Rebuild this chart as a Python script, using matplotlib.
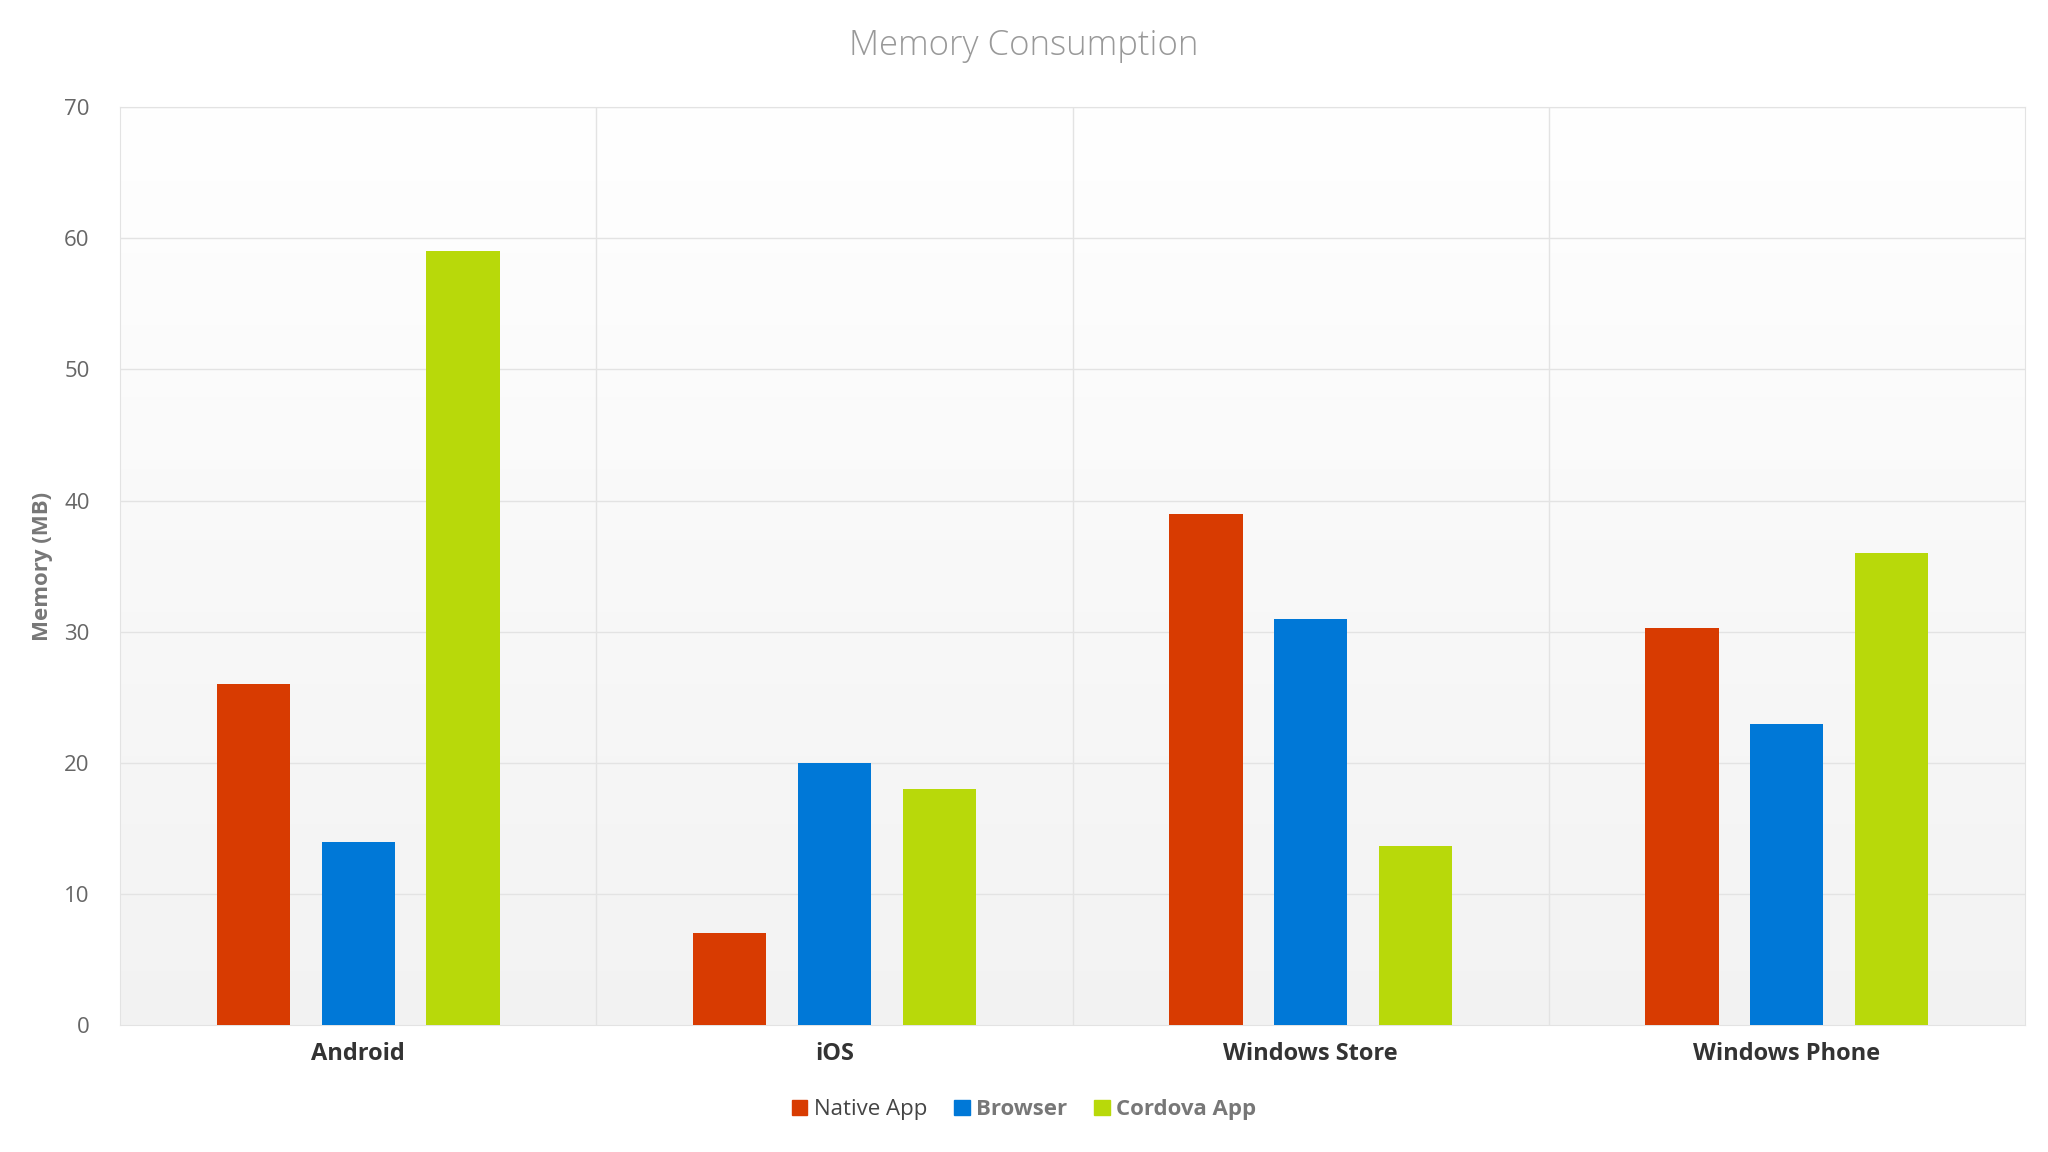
import matplotlib
matplotlib.use("Agg")
import matplotlib.pyplot as plt
import numpy as np
from matplotlib.patches import Patch

categories = ["Android", "iOS", "Windows Store", "Windows Phone"]
series_names = ["Native App", "Browser", "Cordova App"]
native = [26, 7, 39, 30.3]
browser = [14, 20, 31, 23]
cordova = [59, 18, 13.7, 36]
colors = ["#D83B01", "#0078D7", "#B8D90A"]
yticks = [0, 10, 20, 30, 40, 50, 60, 70]

plt.rcParams['font.family'] = ['Open Sans', 'DejaVu Sans']
fig = plt.figure(figsize=(20.48, 11.52), dpi=100)
ax = fig.add_axes([0.0587, 0.110, 0.93, 0.797])

# gradient background
grad = np.linspace(0.95, 1.0, 256).reshape(-1, 1)
ax.imshow(np.dstack([grad]*3), extent=[0, 4, 0, 70], aspect='auto', origin='lower', zorder=0)

x = np.arange(len(categories)) + 0.5
w = 0.154
off = 0.22
for i, (vals, c) in enumerate(zip([native, browser, cordova], colors)):
    ax.bar(x + (i - 1) * off, vals, w, color=c, zorder=3)

ax.set_xlim(0, 4)
ax.set_ylim(0, 70)
ax.set_yticks(yticks)
ax.set_yticklabels([str(t) for t in yticks], color="#666666", fontsize=16)
ax.set_xticks(x)
ax.set_xticklabels(categories, fontsize=17, fontweight='bold', color="#333333")
ax.tick_params(length=0, pad=12)
ax.tick_params(axis='y', pad=22)
for t in yticks[1:]:
    ax.axhline(t, color="#E3E3E3", lw=1, zorder=1)
for v in [1, 2, 3]:
    ax.axvline(v, color="#E3E3E3", lw=1, zorder=1)
for s in ax.spines.values():
    s.set_color("#E3E3E3")
ax.set_ylabel("Memory (MB)", fontsize=16, fontweight='bold', color="#777777", labelpad=8)
fig.suptitle("Memory Consumption", y=0.975, fontsize=25, color="#999999", fontweight='light')

handles = [Patch(color=c) for c in colors]
leg = fig.legend(handles, series_names, loc='lower center', bbox_to_anchor=(0.5, 0.01), ncol=3,
                 frameon=False, fontsize=16, handlelength=0.7, handleheight=0.7,
                 handletextpad=0.3, columnspacing=1.2)
for t, col in zip(leg.get_texts(), ["#444444", "#777777", "#777777"]):
    t.set_color(col)
leg.get_texts()[1].set_fontweight('bold')
leg.get_texts()[2].set_fontweight('bold')

fig.savefig("out.png", dpi=100)
